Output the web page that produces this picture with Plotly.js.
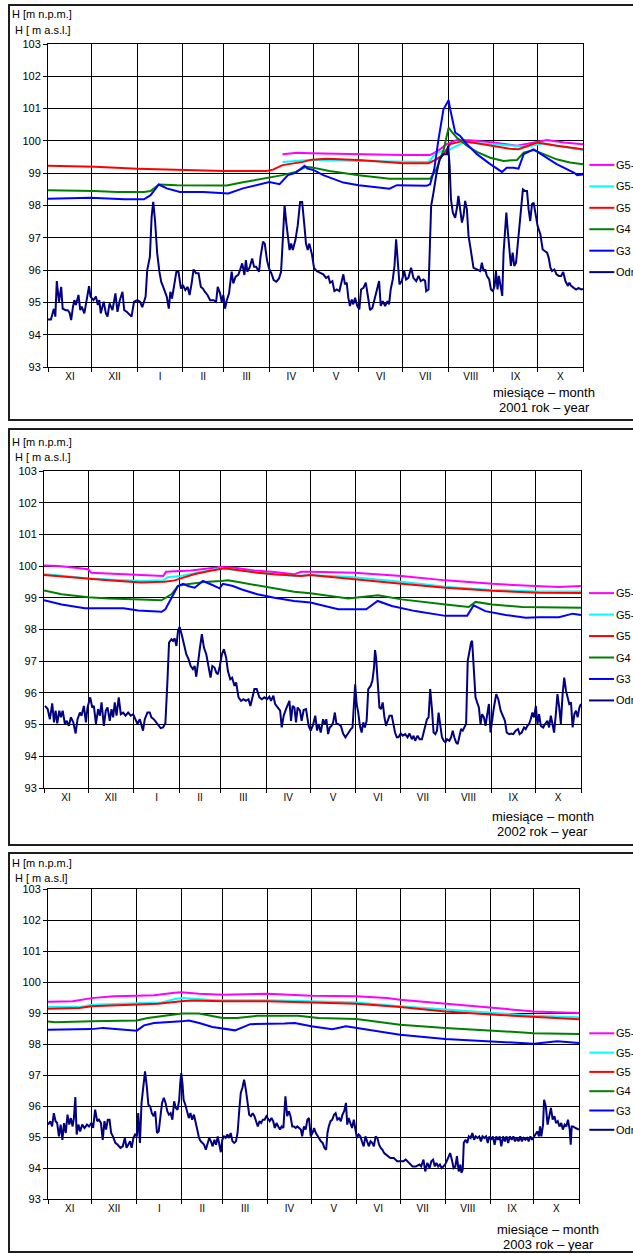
<!DOCTYPE html>
<html><head><meta charset="utf-8">
<script src="https://cdn.plot.ly/plotly-3.0.1.min.js"></script>
<style>
html,body{margin:0;padding:0;width:633px;height:1254px;overflow:hidden;background:#fff;}
.panel{position:absolute;left:8px;width:700px;border:2px solid #1e1e1e;background:#fff;}
.panel>div{width:700px;}
</style></head><body>
<div class="panel" style="top:4px;height:413px"><div id="p1"></div></div>
<div class="panel" style="top:428px;height:414px"><div id="p2"></div></div>
<div class="panel" style="top:852px;height:397px"><div id="p3"></div></div>
<script>
// ---------- shared categories ----------
const monthDays = [30,31,31,28,31,30,31,30,31,31,30,31];
const monthLabels = ['XI','XII','I','II','III','IV','V','VI','VII','VIII','IX','X'];
const seriesNames = ['G5-2','G5-1','G5','G4','G3','Odra'];
const seriesColors = ['#ff00ff','#00ffff','#ff0000','#008000','#0000ff','#000080'];
const yTicks = [93,94,95,96,97,98,99,100,101,102,103];
const years = ['2001','2002','2003'];

// ---------- 2001 ----------
const g52Days2001 = [160,170,179,212,242,260.7,266,272,279,288,304,320,336,340.5,352,365];
const g52Vals2001 = [99.59,99.63,99.62,99.58,99.56,99.56,99.69,99.9,100.03,100.02,99.95,99.85,99.98,100.03,99.95,99.9];
const g51Days2001 = [160,170,180,212,242,259.6,265,274,283.5,304,327,338,365];
const g51Vals2001 = [99.35,99.38,99.42,99.38,99.35,99.35,99.64,99.74,99.95,99.9,99.82,99.93,99.72];
const g5Days2001 = [0,16,32,61,88,120,149,153.5,160,174,180,190,212,242.5,259.6,265,270,274.4,283.5,297,315,321,333.6,347,365];
const g5Vals2001 = [99.23,99.22,99.2,99.14,99.11,99.07,99.07,99.11,99.25,99.35,99.42,99.45,99.41,99.31,99.31,99.43,99.59,99.9,100,99.9,99.76,99.74,99.95,99.85,99.74];
const g4Days2001 = [0,14,31.6,47,65.5,70,75.6,88,122,133,151,160,169,176,180,192,212,233,260.7,265,270,273.3,275.5,279,285.8,292.6,301.7,310.8,320,324.5,331.3,338,347,356,365];
const g4Vals2001 = [98.47,98.47,98.45,98.42,98.42,98.45,98.65,98.63,98.62,98.72,98.87,98.94,99.04,99.2,99.18,99.07,98.94,98.83,98.83,99.12,99.74,100.41,100.28,100.1,99.85,99.66,99.48,99.38,99.41,99.64,99.72,99.59,99.43,99.33,99.28];
const g3Days2001 = [0,29,52,65.5,70,75.6,81,90,106,123,133,146.7,151,158,163.7,169,175,177,181,187.8,201.5,212,233,238,258.4,260.7,263.5,266.4,269.8,273.3,274.4,277.8,281.2,285.8,292.6,301.7,309.7,313,317.7,321,324.5,331.3,338,347,358.7,361,365];
const g3Vals2001 = [98.21,98.24,98.19,98.19,98.32,98.65,98.53,98.42,98.42,98.37,98.53,98.68,98.73,98.66,98.94,99.01,99.23,99.14,99.1,98.94,98.71,98.63,98.52,98.63,98.61,98.66,99.12,100.05,100.98,101.26,100.98,100.26,100.15,99.9,99.59,99.28,99.04,99.17,99.17,99.14,99.59,99.74,99.54,99.28,99.02,98.94,98.96];
const odraDays2001 = [
 0,2,4,5,6,7.5,9,10,12,13.5,
 14.7,15.8,17,18,19,20.8,22,23,24.8,27,
 28,29,31,32.7,34,35,36,38,39.5,40.6,
 42,44,45,46,47.4,49,50.8,52,53.7,55,
 57,58.7,61,62.8,64.3,65.5,66.6,67.7,69.5,70.7,
 71.8,73,74.5,76,77.2,78.6,80,81,82.4,83.5,
 84.6,85.8,87.6,89,90.7,92,93.7,95.3,96.6,98,
 99.3,101,102.7,104.3,105.6,107,108.8,110.6,113,114.7,
 115.8,117.4,118.5,119.6,120.8,122,123.5,125.3,126.4,128,
 129.8,131,132.5,134,135,136,137.7,139.3,140.6,142,
 144,145,146.7,147.9,149.4,150.8,152.4,154,155.8,157.6,
 159,160.3,161.4,162.5,163.7,164.8,165.9,167,168.8,170.4,
 172,173.4,175,176,177.2,178.3,180,181.5,183.3,185.6,
 187.8,189.7,191.3,192.4,194,195.4,197,198.8,200.4,201.5,
 202.6,203.8,204.9,206,207.2,208.3,209.5,211,212.4,213.6,
 215.2,216.8,218.6,219.7,221.3,222.7,224.3,225.9,227,228.4,
 230,231.6,232.7,233.8,235.2,236.4,237.5,238.7,239.8,241.4,
 243,244.3,245.9,247.7,249.3,251.2,252.8,254.3,256.2,257.3,
 258,259.6,260.3,261.4,263,264.8,267.1,269.8,272.1,273,
 274,274.9,276.2,277.8,279,280,281.2,282.4,283.5,284.6,
 285.8,286.9,288,289.2,290.3,292.6,294.9,296,297.2,298.3,
 299.4,301,302.2,303.5,304.7,305.6,306.7,307.6,308.6,309.9,
 310.8,312,312.7,313.6,314.7,315.8,317,318.1,319.3,320.4,
 321.5,322.7,324,325.6,326.8,327.9,329,330.2,331.3,332.5,
 334,335.9,337.5,338.9,340.5,341.6,342.8,343.9,345.5,346.9,
 348.5,350.1,351.5,353,354.7,355.7,356.9,358.7,360.3,362,
 363.7,365];
const odraVals2001 = [
 94.47,94.47,94.8,94.56,95.66,95.02,95.48,94.81,94.76,94.76,
 94.68,94.45,94.85,95.07,94.92,95.23,94.76,94.87,94.66,95.18,
 95.5,95.18,95.07,95.18,94.92,95.07,94.66,95.02,94.66,94.56,
 94.97,94.76,95.07,95.28,94.71,95.07,95.33,94.76,94.71,94.66,
 94.56,95.02,95.07,95.02,94.85,95.02,95.18,96.0,96.41,97.65,
 98.11,97.55,96.52,95.95,95.64,95.48,95.28,95.18,94.81,95.33,
 95.12,95.48,95.95,95.95,95.43,95.54,95.38,95.48,95.23,95.59,
 96.02,95.9,95.9,95.48,95.43,95.33,95.23,95.07,95.07,95.02,
 95.48,95.28,95.02,95.23,94.81,95.07,95.28,95.95,95.59,95.8,
 95.85,96.0,96.21,95.85,96.31,95.95,96.1,96.36,96.1,96.1,
 95.95,96.41,96.88,96.82,96.31,96.05,95.9,95.69,95.64,95.74,
 95.95,97.03,98.01,97.49,96.93,96.62,96.82,96.62,96.93,97.39,
 98.11,98.11,97.34,96.82,96.62,96.82,96.5,96.07,95.97,95.92,
 95.87,95.76,95.8,95.61,95.66,95.35,95.4,95.35,95.61,95.87,
 95.56,95.61,95.14,94.89,95.09,94.94,95.14,94.89,94.78,95.4,
 95.45,95.61,95.09,94.76,94.83,95.09,95.4,95.66,94.89,95.04,
 94.89,95.04,94.94,95.4,95.71,96.13,96.95,96.23,95.56,95.66,
 95.97,95.71,95.76,96.07,95.76,95.66,95.82,95.66,95.71,95.66,
 95.35,95.4,96.54,97.99,98.4,98.92,99.43,99.59,99.59,99.85,
 99.23,98.19,97.78,97.62,97.93,98.3,97.88,97.47,97.68,98.14,
 97.88,97.06,96.75,96.38,96.07,96.02,95.97,96.23,95.97,96.02,
 95.82,95.71,95.4,95.35,95.51,95.97,95.4,95.82,95.51,95.2,
 96.54,97.47,97.78,97.26,96.64,96.13,96.54,96.13,96.23,96.75,
 97.26,98.04,98.5,98.45,98.45,97.88,97.52,98.04,98.09,97.78,
 97.37,97.11,96.64,96.59,96.54,96.38,96.07,95.97,96.02,95.87,
 95.82,95.82,95.94,95.66,95.51,95.61,95.51,95.45,95.4,95.45,
 95.4,95.42];

// ---------- 2002 ----------
const g52Days2002 = [0,10,21,30,32,43.6,66,81,83,100,109,120,129.5,143,156.6,170,174.7,181,211,243,273,304.7,334,350,365];
const g52Vals2002 = [100.02,100,99.95,99.9,99.79,99.76,99.72,99.69,99.82,99.86,99.92,99.97,99.95,99.86,99.81,99.74,99.82,99.82,99.79,99.69,99.55,99.44,99.37,99.34,99.37];
const g51Days2002 = [0,7.5,30,55,66,81,84,93,107,120,134,147.6,161,172,181,209,243,273,304.7,336.5,365];
const g51Vals2002 = [99.74,99.72,99.61,99.55,99.53,99.55,99.65,99.69,99.82,99.93,99.86,99.79,99.72,99.69,99.72,99.66,99.51,99.35,99.25,99.2,99.2];
const g5Days2002 = [0,16.5,30,43.6,66,82,88.8,102,111.4,122.7,134,145,156.6,174.7,181,211.3,243,273,304.7,336.5,365];
const g5Vals2002 = [99.72,99.65,99.61,99.55,99.48,99.51,99.55,99.74,99.84,99.93,99.86,99.79,99.74,99.69,99.72,99.58,99.44,99.32,99.22,99.16,99.15];
const g4Days2002 = [0,12,30,43.6,66,79.8,86.6,91,95.6,111.4,120.5,125,134,147.6,161,170,181,206.8,227,243,273,288.7,293.3,304.7,325,365];
const g4Vals2002 = [99.23,99.11,99.02,98.98,98.95,98.92,99.11,99.37,99.42,99.51,99.53,99.55,99.48,99.37,99.27,99.19,99.14,98.98,99.08,98.95,98.79,98.71,98.87,98.79,98.71,98.69];
const g3Days2002 = [0,12,27.8,54,64,80,82.5,85.4,88.8,91,94.5,97.9,102.4,108,113.7,119.3,121.6,128.4,134,145,156.6,170,181,200,211.3,219,226.8,236.4,252.3,272.8,287.6,292,300,313.8,327.4,336.5,350,359.3,365];
const g3Vals2002 = [98.92,98.79,98.67,98.67,98.6,98.56,98.64,98.9,99.16,99.37,99.44,99.37,99.32,99.53,99.42,99.3,99.44,99.37,99.27,99.11,99,98.9,98.85,98.64,98.64,98.64,98.9,98.74,98.58,98.43,98.43,98.76,98.58,98.46,98.37,98.39,98.39,98.5,98.46];
const odraDays2002 = [
 0.7,2.5,4,5.6,6.8,7.9,9,10.4,11.5,12.7,
 14.2,15.4,16.9,18.3,19.9,21.5,22.8,24.4,25.5,27.1,
 28.5,29.6,31.4,32.8,33.9,35.3,36.8,38,39.1,40.7,
 42,43.2,44.7,45.9,47,48.1,49.3,50.8,52.2,53.8,
 55.4,57.2,59,60.6,62.1,63.5,65.1,66.2,67.3,68.5,
 70.3,71.9,73,74.6,76.4,78,79.3,80.9,82.5,83.8,
 85,86.6,87.7,88.8,90,91.1,92.2,93.8,95.1,96.7,
 98.3,99.7,101.2,102.4,103.5,104.6,106,107.3,108.7,110.3,
 111.9,113.2,114.4,115.9,117.1,118.2,119.5,120.9,122.3,123.8,
 125,126.6,127.9,129.5,130.6,132.2,134,135.6,137.2,139,
 140.3,141.5,143,144.6,146.4,148,149.8,151.6,153.2,154.3,
 155.9,157.1,158.9,160.5,161.6,162.9,164.5,165.6,166.8,167.9,
 169,170.2,171.3,172.4,174,175.1,176.5,178.1,179.9,181.3,
 182.9,184.4,185.6,186.7,188.1,189.7,190.8,191.9,193.1,194.2,
 195.4,196.5,197.7,198.8,199.9,201.8,203.3,204.9,206.8,208.6,
 209.7,210.9,211.5,212.5,213.6,214.7,215.9,217,218.1,219.3,
 220.4,222,223.2,224.3,225,225.7,226.8,228,229.1,230.2,
 231.4,232.5,233.6,234.8,236.4,237.5,238.6,239.8,240.9,242.5,
 243.9,245.5,247.1,248.4,250,251.2,252.3,253.9,255.3,256.9,
 258,259.1,260.3,261.4,262.5,263.7,264.8,266,267.1,268.2,
 269.3,270.5,271.7,272.8,273.9,275.5,276.7,277.8,278.9,280.1,
 281.2,282.3,283.5,284.6,285.8,286.9,288,289.2,290.3,291,
 292.1,293.3,294.4,295.6,296.7,297.8,299,300.1,301.3,302.4,
 303.5,304.7,305.8,307.4,308.8,310.4,312,313.3,314.5,316.1,
 317.6,319,320.6,322.2,323.3,324.7,326.3,327.4,328.6,329.7,
 330.8,332,333.1,334.3,335.4,336.5,337.7,339.3,340.6,342.2,
 343.3,344.5,345.6,346.7,347.9,349,350.2,351.3,352.5,353.6,
 354.8,355.9,357,358.2,359.3,360.5,361.6,362.7,363.9,365];
const odraVals2002 = [
 95.59,95.49,95.17,95.67,95.07,95.44,95.04,95.44,95.23,95.44,
 95.02,95.12,94.96,95.23,95.07,94.72,95.17,95.38,95.28,95.59,
 95.07,95.54,95.86,95.54,95.59,95.02,95.49,95.28,95.7,94.96,
 95.44,95.54,95.12,95.49,95.23,95.7,95.28,95.86,95.33,95.38,
 95.28,95.38,95.28,95.33,95.17,95.02,95.17,95.02,94.81,95.17,
 95.38,95.38,95.23,95.17,95.07,94.96,94.89,94.91,95.04,96.27,
 97.59,97.69,97.64,97.72,97.48,97.95,98.08,97.8,97.53,97.22,
 97.06,96.85,96.75,96.85,96.51,97.01,97.43,97.85,97.43,97.22,
 96.8,96.48,96.85,96.8,96.64,96.59,96.85,97.22,97.38,97.11,
 96.69,96.43,96.48,96.22,96.33,95.86,95.75,95.8,95.75,95.8,
 95.59,95.8,96.12,96.12,95.86,95.8,95.86,95.8,95.88,95.75,
 95.91,95.65,95.54,95.44,94.91,95.28,95.49,95.59,95.75,95.12,
 95.59,95.54,95.07,95.54,95.44,95.12,95.46,95.49,94.96,94.81,
 95.0,95.28,94.81,95.02,94.75,95.17,95.02,95.17,94.7,94.91,
 94.96,95.07,95.38,95.02,95.02,94.96,94.72,94.6,94.75,94.86,
 94.91,95.7,96.27,95.65,95.38,94.96,94.75,95.07,94.91,95.12,
 96.12,96.22,96.38,96.8,97.35,97.11,96.17,95.54,95.49,95.7,
 95.23,94.96,95.12,95.28,95.28,95.02,94.75,94.6,94.6,94.72,
 94.65,94.7,94.6,94.72,94.54,94.65,94.49,94.65,94.54,94.54,
 94.75,94.96,95.17,95.23,96.12,95.49,94.75,94.7,94.81,95.38,
 94.91,94.6,94.49,94.44,94.54,94.49,94.6,94.81,94.6,94.44,
 94.39,94.65,94.86,94.81,94.91,95.02,97.01,97.32,97.59,97.64,
 96.9,95.86,95.7,95.54,95.02,95.33,95.23,94.96,95.33,95.65,
 94.75,95.23,95.54,95.96,95.8,95.44,95.23,95.12,94.75,94.7,
 94.72,94.7,94.81,94.86,94.7,94.75,94.91,94.86,94.96,95.02,
 95.17,95.38,95.23,95.59,95.02,95.33,94.96,94.91,95.02,95.12,
 94.91,95.28,95.02,94.75,95.33,95.96,95.54,95.02,95.96,96.48,
 96.07,95.86,95.65,95.7,94.91,95.33,95.44,95.23,95.54,95.65];

// ---------- 2003 ----------
const g52Days2003 = [0,17,30,45,61,73,87,91.6,103.8,120,150.8,181,212,233,242,273,304,334,365];
const g52Vals2003 = [99.36,99.38,99.48,99.54,99.56,99.57,99.65,99.67,99.62,99.59,99.62,99.56,99.54,99.48,99.43,99.3,99.16,99.05,99.0];
const g51Days2003 = [0,21.6,30,61.5,78,87.4,92,115.5,150,181,212,242,273,304,334,365];
const g51Vals2003 = [99.2,99.19,99.27,99.32,99.34,99.45,99.48,99.41,99.41,99.38,99.34,99.22,99.11,99.02,98.91,98.86];
const g5Days2003 = [0,21.6,30,61,75.6,91.6,99,120,150,181,212,242,273,304,334,365];
const g5Vals2003 = [99.14,99.16,99.22,99.27,99.3,99.38,99.4,99.38,99.38,99.34,99.3,99.19,99.05,98.95,98.87,98.8];
const g4Days2003 = [0,5,30,61,68.6,78,92,103.8,120,130,143.7,172,186,212,242,273,304,334,365];
const g4Vals2003 = [98.73,98.7,98.73,98.76,98.84,98.89,98.98,98.98,98.84,98.84,98.91,98.91,98.84,98.81,98.62,98.52,98.44,98.35,98.32];
const g3Days2003 = [0,30,38,61,66,73,91.6,96.8,104,113,128.6,139,162.5,169.6,181,195.4,204.8,212,242,273,304,334,350,365];
const g3Vals2003 = [98.46,98.48,98.52,98.43,98.6,98.68,98.73,98.76,98.68,98.55,98.44,98.64,98.66,98.68,98.57,98.48,98.57,98.52,98.3,98.16,98.09,98.01,98.09,98.03];
const odraDays2003 = [
 0,1.6,2.8,4,5.2,6.3,7.5,8.7,9.9,11,
 12.2,13.4,14.6,15.7,16.9,17.8,18.8,19.7,20.9,22.1,
 23.5,25.1,26.8,28.2,29.8,31,32.4,33.8,35,36.4,
 37.6,38.8,39.9,41.1,42.3,43.4,44.6,46.3,47.9,49.8,
 51.4,52.8,54,55.2,56.4,57.5,58.7,59.9,61.1,62,
 63.2,64.3,65.5,66.7,67.9,69,70.2,71.4,72.6,73.7,
 74.9,76.1,77.3,78.4,79.6,80.8,82,83.1,84.3,85.5,
 86.7,87.8,89,90.2,90.9,91.6,92.5,93.2,94.4,95.6,
 96.8,97.9,99.1,100.3,101.5,102.6,103.8,105,106.2,107.3,
 108.5,109.7,110.8,112,113.2,114.4,115.5,116.7,117.9,118.8,
 119.8,121,122.1,123.3,124.5,125.6,126.8,128,129.2,130.3,
 131.5,132.5,133.6,134.8,136,137.2,138.3,139.5,140.7,141.9,
 143,144.2,145.4,146.5,147.7,148.9,150.1,151.2,152.4,153.6,
 154.8,155.9,157.1,158.3,159.5,160.6,161.8,163.2,164.4,165.6,
 166.7,167.9,169.1,170.3,171.4,172.6,173.8,174.7,175.9,177.1,
 178.3,179.4,180.6,181.8,182.9,184.1,185.3,186.5,187.6,188.8,
 190,191.2,192.1,193,194.2,195.4,196.6,197.7,198.9,200.1,
 201.3,202.4,203.6,204.8,205.7,206.7,207.8,209,210.2,211.1,
 212.3,213.5,214.7,215.8,217,218.2,219.4,220.5,221.7,222.9,
 224,225.2,226.4,227.6,228.7,229.9,231.1,232.3,233.4,235.3,
 237.7,240,242.4,244.3,245.9,248.2,250.6,252.9,255.3,256.5,
 258.1,259.3,260.7,262.3,263.5,264.7,265.9,267,268.2,269.4,
 270.6,271.7,272.9,274.1,275.3,276.4,277.6,278.8,280,281.1,
 282.3,283.5,284.2,285.1,285.8,287,288.2,289.3,290.5,291.7,
 292.9,294,295.2,296.4,297.6,298.7,299.9,301.1,302.3,303.4,
 304.6,305.8,307,308.1,309.3,310.5,311.6,312.8,314,315.2,
 316.3,317.5,318.7,319.9,321,322.2,323.4,324.6,325.7,326.9,
 328.1,329.3,330.4,331.6,332.8,334,335.1,336.3,337.5,338.2,
 339.1,340.3,341,342.2,343.4,344.5,345.7,346.9,348.1,349.2,
 350.4,351.6,352.8,353.9,355.1,356.3,357.4,358.6,359.3,360,
 361,362.6,365];
const odraVals2003 = [
 95.4,95.51,95.34,95.77,95.51,95.45,95.02,95.4,94.91,95.45,
 95.13,95.72,95.4,95.61,95.34,95.61,96.29,95.08,95.4,95.18,
 95.4,95.29,95.4,95.34,95.45,95.29,95.88,95.51,95.56,95.45,
 94.91,95.51,95.24,95.56,95.56,95.13,95.02,94.81,94.75,94.65,
 94.7,94.97,94.65,94.75,94.86,94.65,94.97,95.08,95.02,95.77,
 94.81,96.1,96.74,97.12,96.63,96.04,95.99,95.77,95.67,95.83,
 95.13,95.18,95.67,96.1,96.26,96.1,95.83,95.72,95.77,95.56,
 96.15,95.94,95.88,96.2,96.74,97.06,96.69,96.2,96.04,95.83,
 95.61,95.77,95.56,95.72,95.51,95.24,94.97,94.86,94.81,94.75,
 94.59,94.81,94.97,94.86,94.7,94.91,94.75,95.02,94.7,94.51,
 94.91,95.02,94.97,95.08,94.97,95.13,94.86,94.81,94.86,95.13,
 95.88,96.42,96.58,96.85,96.53,96.1,95.72,95.67,95.77,95.67,
 95.51,95.34,95.51,95.45,95.56,95.56,95.67,95.61,95.51,95.61,
 95.51,95.29,95.45,95.34,95.24,95.34,95.29,96.31,95.67,95.83,
 95.67,95.34,95.34,95.29,95.34,95.29,95.24,95.02,95.34,95.24,
 95.56,95.61,95.02,95.13,95.29,95.13,95.02,94.91,94.86,94.81,
 94.65,94.59,95.13,95.34,95.51,95.56,95.72,95.77,95.56,95.61,
 95.51,95.72,95.83,96.1,95.4,95.61,95.45,95.29,95.56,95.24,
 94.97,95.08,95.02,94.86,94.7,95.02,94.81,94.7,94.86,94.81,
 94.7,95.02,94.97,94.75,94.65,94.59,94.48,94.43,94.38,94.32,
 94.32,94.22,94.22,94.22,94.27,94.16,94.05,94.05,94.11,94.05,
 94.27,93.89,94.16,94.0,94.22,94.27,94.05,94.16,94.05,94.11,
 94.0,94.05,94.11,94.22,94.38,94.48,94.27,94.0,94.05,94.38,
 93.89,94.11,93.84,93.95,94.81,94.91,94.81,95.02,94.97,95.13,
 94.91,95.02,94.97,95.02,94.86,95.02,94.97,95.02,94.81,95.02,
 94.91,95.02,94.75,95.02,94.91,95.02,94.7,95.02,94.86,95.02,
 94.81,95.02,94.91,95.02,94.86,94.97,94.86,95.02,94.86,94.97,
 94.91,94.97,94.86,95.02,94.91,95.02,95.08,95.18,95.02,95.34,
 95.02,95.4,96.2,95.99,95.4,95.67,95.94,95.56,95.67,95.45,
 95.51,95.34,95.45,95.24,95.4,95.34,95.56,95.24,94.75,95.34,
 95.34,95.29,95.24];

// ---------- layout helpers ----------
const bounds = [0];
monthDays.forEach(d => bounds.push(bounds[bounds.length - 1] + d));
const mids = monthDays.map((d, i) => bounds[i] + d / 2);

const FONT = 'Liberation Sans, Arial, Helvetica, sans-serif';

const panels = [
  {id:'p1', year: years[0], top:6, h:413, pl:48.3, pr:582.7, pt:44.3, pb:366.7,
   t1:14.5, t2:30, t2text:'H [ m a.s.l.]', b1:392.5, b2:407.5, bx:544, legY:165, legStep:21.4,
   series:[[g52Days2001,g52Vals2001],[g51Days2001,g51Vals2001],[g5Days2001,g5Vals2001],[g4Days2001,g4Vals2001],[g3Days2001,g3Vals2001],[odraDays2001,odraVals2001]]},
  {id:'p2', year: years[1], top:430, h:414, pl:44.3, pr:581, pt:471, pb:788.5,
   t1:441.7, t2:457.3, t2text:'H [ m a.s.l.]', b1:817, b2:832, bx:543, legY:593.3, legStep:21.5,
   series:[[g52Days2002,g52Vals2002],[g51Days2002,g51Vals2002],[g5Days2002,g5Vals2002],[g4Days2002,g4Vals2002],[g3Days2002,g3Vals2002],[odraDays2002,odraVals2002]]},
  {id:'p3', year: years[2], top:854, h:397, pl:47.7, pr:578.7, pt:889, pb:1199,
   t1:862.7, t2:877.7, t2text:'H [ m a.s.l]', b1:1229.5, b2:1244.5, bx:548, legY:1033.3, legStep:19.3,
   series:[[g52Days2003,g52Vals2003],[g51Days2003,g51Vals2003],[g5Days2003,g5Vals2003],[g4Days2003,g4Vals2003],[g3Days2003,g3Vals2003],[odraDays2003,odraVals2003]]}
];

function drawPanel(p) {
  const W = 700, H = p.h;
  const ml = p.pl - 10, mt = p.pt - p.top;
  const pw = p.pr - p.pl, ph = p.pb - p.pt;
  const mr = W - ml - pw, mb = H - mt - ph;
  const fx = x => (x - p.pl) / pw;
  const fy = y => (p.pb - y) / ph;
  const traces = p.series.map((s, i) => ({
    type:'scatter', mode:'lines', x:s[0], y:s[1], name:seriesNames[i],
    line:{color:seriesColors[i], width:2}, hoverinfo:'skip', showlegend:false
  }));
  const ann = (text, x, y, xa, size) => ({text, x:fx(x), y:fy(y), xref:'paper', yref:'paper',
    xanchor:xa, yanchor:'middle', showarrow:false, font:{family:FONT, size, color:'#000'}, borderpad:0, borderwidth:0});
  // legend key: sample line + series name, placed right of the plot
  const keyShapes = seriesNames.map((n, i) => ({type:'line', xref:'paper', yref:'paper',
    x0:fx(589), x1:fx(614), y0:fy(p.legY + i * p.legStep), y1:fy(p.legY + i * p.legStep),
    line:{color:seriesColors[i], width:2}}));
  const keyTexts = seriesNames.map((n, i) => ann(n, 616, p.legY + i * p.legStep, 'left', 11));
  const layout = {
    width:W, height:H,
    margin:{l:ml, r:mr, t:mt, b:mb, pad:0, autoexpand:false},
    paper_bgcolor:'#fff', plot_bgcolor:'#fff',
    font:{family:FONT, size:11, color:'#000'},
    showlegend:false,
    xaxis:{range:[0,365], tickmode:'array', tickvals:mids, ticktext:monthLabels, ticks:'',
      showgrid:false, zeroline:false, showline:true, linecolor:'#000', linewidth:1, mirror:true,
      tickfont:{family:FONT, size:10, color:'#000'}, fixedrange:true,
      minor:{tickmode:'array', tickvals:bounds, showgrid:true, gridcolor:'#000', gridwidth:1,
        ticks:'outside', ticklen:4, tickcolor:'#000', tickwidth:1}},
    yaxis:{range:[93,103], tickmode:'array', tickvals:yTicks, ticks:'outside', ticklen:4, tickcolor:'#000',
      showgrid:true, gridcolor:'#000', gridwidth:1, zeroline:false, showline:true, linecolor:'#000',
      linewidth:1, mirror:true, tickfont:{family:FONT, size:11, color:'#000'}, fixedrange:true},
    shapes:keyShapes,
    annotations:[
      ann('H [m n.p.m.]', 12, p.t1, 'left', 11),
      ann(p.t2text, 15, p.t2, 'left', 11),
      ann('miesiące – month', p.bx, p.b1, 'center', 13),
      ann(p.year + ' rok – year', p.bx, p.b2, 'center', 13)
    ].concat(keyTexts)
  };
  Plotly.newPlot(p.id, traces, layout, {staticPlot:true, displayModeBar:false});
}
panels.forEach(drawPanel);
</script>
</body></html>
